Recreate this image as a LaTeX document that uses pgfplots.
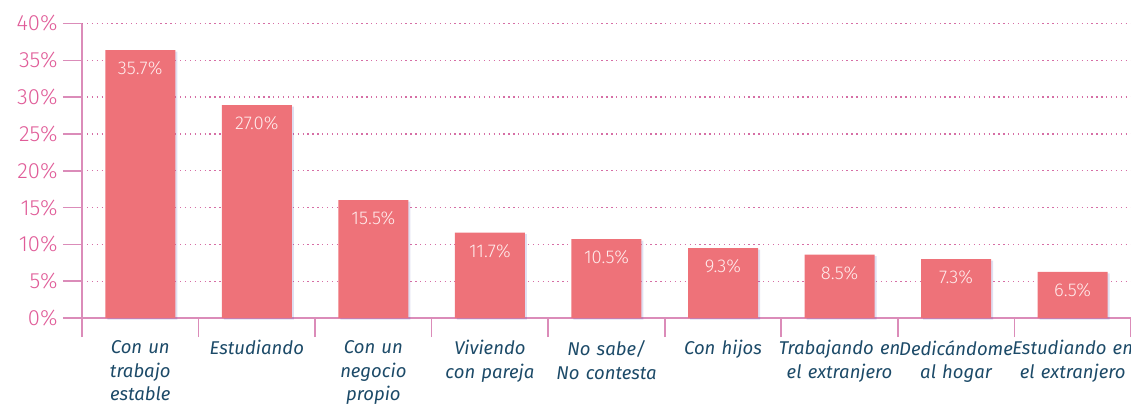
\documentclass[border=0pt]{standalone}
\usepackage{pgfplots}
\pgfplotsset{compat=1.18}
\usepackage{pgfplotstable}
\usepackage{fontspec}
\setmainfont{Fira Sans}[UprightFont=* Light, ItalicFont=* Italic]
\usetikzlibrary{shadows}
\definecolor{barc}{RGB}{238,114,121}
\definecolor{axc}{RGB}{219,140,185}
\definecolor{tickc}{RGB}{224,92,152}
\definecolor{gridc}{RGB}{214,110,165}
\definecolor{catc}{RGB}{28,74,104}
\definecolor{lblc}{RGB}{255,236,236}
\pgfplotstableread[col sep=comma]{
x,y,lab
0,36.4,35.7\%
1,28.9,27.0\%
2,16.0,15.5\%
3,11.6,11.7\%
4,10.7,10.5\%
5,9.5,9.3\%
6,8.6,8.5\%
7,8.0,7.3\%
8,6.25,6.5\%
}\datatab
\begin{document}
\begin{tikzpicture}[x=1pt,y=1pt]
\path[use as bounding box] (-82pt,-87pt) rectangle (1049pt,318pt);
\begin{axis}[
  at={(0pt,0pt)}, anchor=south west,
  scale only axis, width=1049pt, height=294.5pt,
  xmin=-0.5, xmax=8.5, ymin=0, ymax=40,
  axis x line*=bottom, axis y line*=left,
  axis line style={axc, line width=1.6pt},
  tick style={axc, line width=1.6pt},
  tick align=outside, major tick length=19pt,
  xtick={-0.5,0.5,...,8.5},
  xticklabels={},
  extra x ticks={0,...,8},
  extra x tick labels={{Con un\\trabajo\\estable},Estudiando,{Con un\\negocio\\propio},{Viviendo\\con pareja},{No sabe/\\No contesta},Con hijos,{Trabajando en\\el extranjero},{Dedicándome\\al hogar},{Estudiando en\\el extranjero}},
  extra x tick style={major tick length=0pt, grid=none,
    tick label style={font=\fontsize{18.5}{23.5}\selectfont\itshape, text=catc, align=center, text width=130pt, yshift=-19pt}},
  ytick={0,5,...,40},
  yticklabel={\pgfmathprintnumber{\tick}\%},
  y tick label style={font=\fontsize{22}{24}\selectfont, text=tickc, xshift=-2pt},
  /pgf/number format/assume math mode=true,
  ymajorgrids, grid style={gridc, line width=1.3pt, dash pattern=on 1.3pt off 3.6pt},
  clip=false,
]
\addplot[ybar, bar width=70pt, fill=barc, draw=none,
  drop shadow={shadow xshift=2pt, shadow yshift=-1.5pt, opacity=0.18, fill=blue!40!gray},
  point meta=explicit symbolic,
  nodes near coords,
  every node near coord/.append style={anchor=north, yshift=-8pt, text=lblc, font=\fontsize{18.5}{20}\selectfont}]
  table[x=x, y=y, meta=lab]{\datatab};
\end{axis}
\end{tikzpicture}
\end{document}
